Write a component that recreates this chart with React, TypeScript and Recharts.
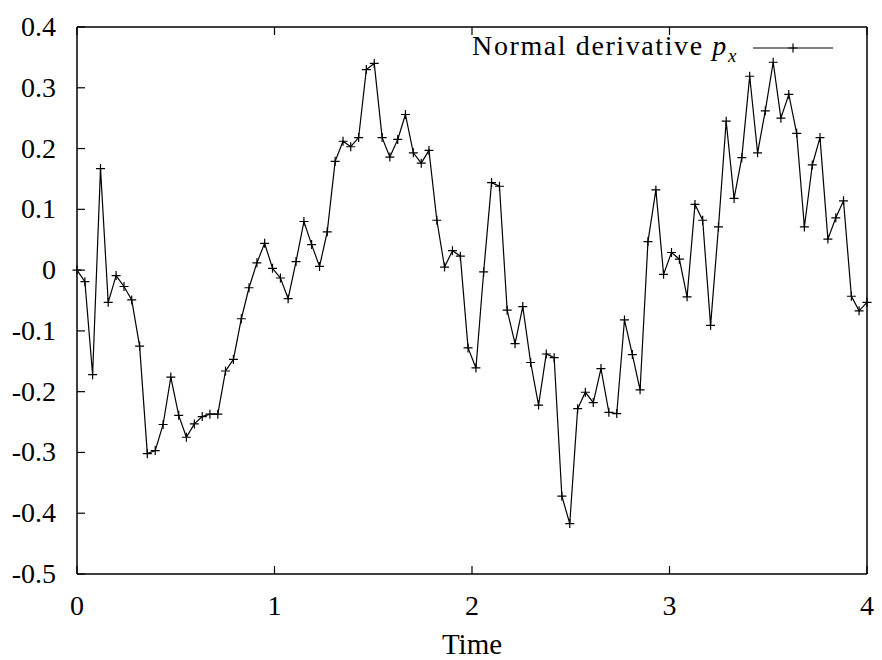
import { LineChart, Line, XAxis, YAxis, Legend } from 'recharts'

// sample times (102 samples over [0, 4])
const times = [
  0, 0.040, 0.079, 0.119, 0.158, 0.198, 0.238, 0.277, 0.317, 0.356,
  0.396, 0.436, 0.475, 0.515, 0.554, 0.594, 0.634, 0.673, 0.713, 0.752,
  0.792, 0.832, 0.871, 0.911, 0.950, 0.990, 1.030, 1.069, 1.109, 1.149,
  1.188, 1.228, 1.267, 1.307, 1.347, 1.386, 1.426, 1.465, 1.505, 1.545,
  1.584, 1.624, 1.663, 1.703, 1.743, 1.782, 1.822, 1.861, 1.901, 1.941,
  1.980, 2.020, 2.059, 2.099, 2.139, 2.178, 2.218, 2.257, 2.297, 2.337,
  2.376, 2.416, 2.455, 2.495, 2.535, 2.574, 2.614, 2.653, 2.693, 2.733,
  2.772, 2.812, 2.851, 2.891, 2.931, 2.970, 3.010, 3.050, 3.089, 3.129,
  3.168, 3.208, 3.248, 3.287, 3.327, 3.366, 3.406, 3.446, 3.485, 3.525,
  3.564, 3.604, 3.644, 3.683, 3.723, 3.762, 3.802, 3.842, 3.881, 3.921,
  3.960, 4.0,
]

const px = [
  0, -0.019, -0.172, 0.167, -0.053, -0.009, -0.027, -0.049, -0.125, -0.302,
  -0.297, -0.254, -0.176, -0.239, -0.275, -0.253, -0.241, -0.237, -0.237, -0.166,
  -0.147, -0.080, -0.029, 0.012, 0.044, 0.003, -0.013, -0.047, 0.014, 0.080,
  0.042, 0.006, 0.063, 0.179, 0.212, 0.203, 0.218, 0.330, 0.340, 0.218,
  0.186, 0.215, 0.256, 0.193, 0.176, 0.197, 0.082, 0.005, 0.032, 0.023,
  -0.128, -0.161, -0.003, 0.144, 0.138, -0.066, -0.121, -0.060, -0.152, -0.222,
  -0.138, -0.144, -0.372, -0.417, -0.228, -0.201, -0.218, -0.162, -0.234, -0.236,
  -0.082, -0.139, -0.197, 0.047, 0.132, -0.007, 0.029, 0.018, -0.044, 0.108,
  0.082, -0.091, 0.071, 0.245, 0.118, 0.185, 0.319, 0.193, 0.262, 0.342,
  0.250, 0.289, 0.225, 0.071, 0.173, 0.218, 0.051, 0.086, 0.114, -0.043,
  -0.067, -0.053,
]

const xTicks = [0, 1, 2, 3, 4]
const yTicks = [-0.5, -0.4, -0.3, -0.2, -0.1, 0, 0.1, 0.2, 0.3, 0.4]

const data = times.map((t, i) => ({ t, px: px[i] }))

const FONT = '"Liberation Serif", "Times New Roman", serif'
const TICK_LEN = 8

const Plus = (props: any) => {
  const { cx, cy } = props
  if (cx == null || cy == null) return null
  return (
    <path
      d={`M${cx - 4.5},${cy}H${cx + 4.5}M${cx},${cy - 4.5}V${cy + 4.5}`}
      stroke="#000"
      strokeWidth={1.2}
      fill="none"
    />
  )
}

// gnuplot style: tick marks point into the plot box
const BottomTick = (props: any) => {
  const { x, y, payload } = props
  return (
    <g>
      <line x1={x} y1={y} x2={x} y2={y - TICK_LEN} stroke="#000" strokeWidth={1.2} />
      <text x={x} y={y + 41} textAnchor="middle" fontFamily={FONT} fontSize={28} fill="#000">{payload.value}</text>
    </g>
  )
}

const TopTick = (props: any) => {
  const { x, y } = props
  return <line x1={x} y1={y} x2={x} y2={y + TICK_LEN} stroke="#000" strokeWidth={1.2} />
}

const LeftTick = (props: any) => {
  const { x, y, payload } = props
  return (
    <g>
      <line x1={x} y1={y} x2={x + TICK_LEN} y2={y} stroke="#000" strokeWidth={1.2} />
      <text x={x - 21} y={y + 9} textAnchor="end" fontFamily={FONT} fontSize={28} fill="#000">{payload.value}</text>
    </g>
  )
}

const RightTick = (props: any) => {
  const { x, y } = props
  return <line x1={x} y1={y} x2={x - TICK_LEN} y2={y} stroke="#000" strokeWidth={1.2} />
}

const LegendBox = () => (
  <div style={{ display: 'flex', alignItems: 'center', fontFamily: FONT, fontSize: 28, whiteSpace: 'nowrap', color: '#000' }}>
    <span style={{ letterSpacing: 1.6 }}>
      Normal derivative <i>p</i>
      <sub style={{ fontSize: 19 }}><i>x</i></sub>
    </span>
    <svg width={82} height={20} style={{ marginLeft: 14 }}>
      <line x1={1} y1={10} x2={81} y2={10} stroke="#000" strokeWidth={1} />
      <path d="M36.5,10H45.5M41,5.5V14.5" stroke="#000" strokeWidth={1.2} />
    </svg>
  </div>
)

export default function App() {
  return (
    <div style={{ position: 'absolute', left: 0, top: 0, background: '#fff' }}>
      <LineChart width={882} height={660} data={data} margin={{ top: 26, right: 14, bottom: 0, left: 0 }}>
        <XAxis
          xAxisId="b"
          dataKey="t"
          type="number"
          domain={[0, 4]}
          ticks={xTicks}
          height={86}
          stroke="#000"
          strokeWidth={1.5}
          tickLine={false}
          tickSize={0}
          tickMargin={0}
          tick={<BottomTick />}
          label={{ value: 'Time', position: 'insideBottom', offset: 6, style: { fontFamily: FONT, fontSize: 29, fill: '#000', textAnchor: 'middle' } }}
        />
        <XAxis
          xAxisId="t"
          orientation="top"
          dataKey="t"
          type="number"
          domain={[0, 4]}
          ticks={xTicks}
          height={1}
          stroke="#000"
          strokeWidth={1.5}
          tickLine={false}
          tickSize={0}
          tickMargin={0}
          tick={<TopTick />}
        />
        <YAxis
          yAxisId="l"
          type="number"
          domain={[-0.5, 0.4]}
          ticks={yTicks}
          width={77}
          stroke="#000"
          strokeWidth={1.5}
          tickLine={false}
          tickSize={0}
          tickMargin={0}
          tick={<LeftTick />}
        />
        <YAxis
          yAxisId="r"
          orientation="right"
          type="number"
          domain={[-0.5, 0.4]}
          ticks={yTicks}
          width={1}
          stroke="#000"
          strokeWidth={1.5}
          tickLine={false}
          tickSize={0}
          tickMargin={0}
          tick={<RightTick />}
        />
        <Legend
          layout="horizontal"
          verticalAlign="middle"
          align="center"
          content={() => <LegendBox />}
          wrapperStyle={{ top: 30, right: 48, left: 'auto', width: 'auto', height: 'auto' }}
        />
        <Line
          xAxisId="b"
          yAxisId="l"
          dataKey="px"
          stroke="#000"
          strokeWidth={1.2}
          dot={<Plus />}
          activeDot={false}
          isAnimationActive={false}
        />
      </LineChart>
    </div>
  )
}
